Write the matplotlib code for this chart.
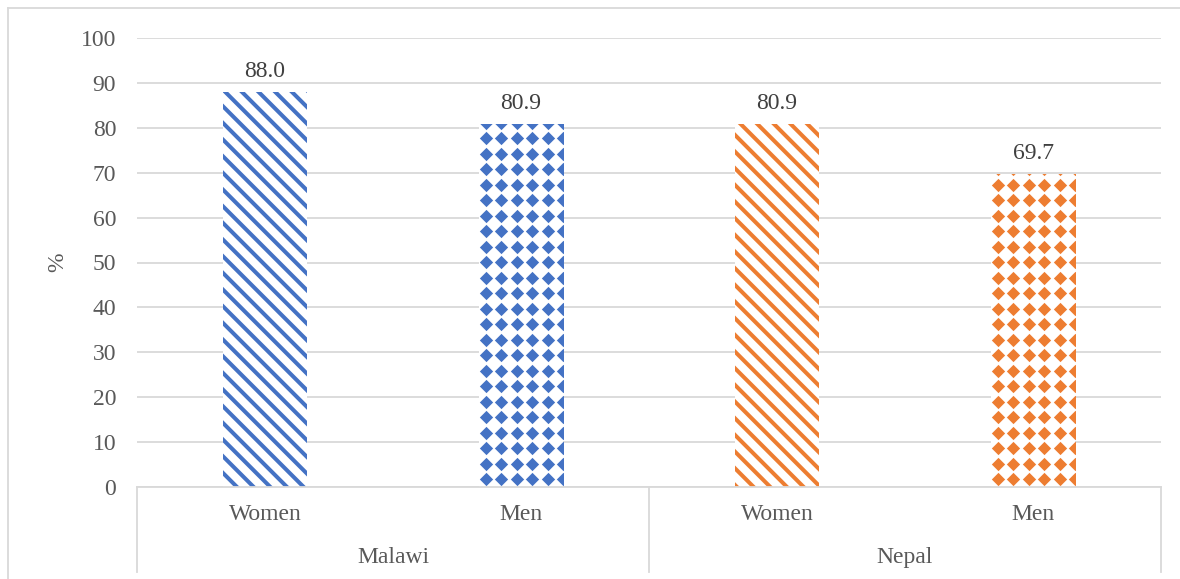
import numpy as np
import matplotlib
matplotlib.use("Agg")
import matplotlib.pyplot as plt
from matplotlib.lines import Line2D

countries = ["Malawi", "Nepal"]
sexes = ["Women", "Men"]
values = [88.0, 80.9, 80.9, 69.7]
value_labels = ["88.0", "80.9", "80.9", "69.7"]
yticks = [0, 10, 20, 30, 40, 50, 60, 70, 80, 90, 100]

blue = "#4472C4"
orange = "#ED7D31"
bar_colors = [blue, blue, orange, orange]
patterns = ["stripe", "dots", "stripe", "dots"]

plt.rcParams["font.family"] = ["Liberation Serif", "DejaVu Serif"]
plt.rcParams["hatch.linewidth"] = 2.9

W, H = 1180, 579
fig = plt.figure(figsize=(W / 100, H / 100), dpi=100)
ax = fig.add_axes([137 / W, 1 - 487 / H, (1161 - 137) / W, (487 - 38) / H])

x = np.arange(len(values))
bw = 0.325
grid_c = "#D9D9D9"
txt_c = "#595959"
fs = 17

for xi, v, c, p in zip(x, values, bar_colors, patterns):
    if p == "stripe":
        ax.bar(xi, v, bw, facecolor="white", edgecolor=c, hatch="\\\\", linewidth=0, zorder=2)
    else:
        b = ax.bar(xi, v, bw, facecolor="white", edgecolor="none", linewidth=0, zorder=2)[0]
        sx = 15.5 / 256
        sy = 15.5 / 4.49
        xs = np.arange(xi - bw / 2 + sx * 0.4, xi + bw / 2 + sx, sx)
        ys = np.arange(sy * 0.5, v + sy, sy)
        XX, YY = np.meshgrid(xs, ys)
        sc = ax.scatter(XX.ravel(), YY.ravel(), marker="D", s=46, color=c, linewidths=0, zorder=3)
        sc.set_clip_path(b)

for xi, v, lab in zip(x, values, value_labels):
    ax.annotate(lab, (xi, v), xytext=(0, 7), textcoords="offset points",
                ha="center", va="bottom", fontsize=fs, color="#404040")

ax.set_xlim(-0.5, len(values) - 0.5)
ax.set_ylim(0, 100)
ax.set_yticks(yticks)
ax.set_yticklabels([str(t) for t in yticks], fontsize=fs, color=txt_c)
ax.tick_params(axis="y", length=0, pad=15)
ax.set_xticks([])
ax.yaxis.grid(True, color=grid_c, linewidth=1.3, zorder=0)
ax.set_axisbelow(True)
for s in ["top", "right", "left"]:
    ax.spines[s].set_visible(False)
ax.spines["bottom"].set_color(grid_c)
ax.spines["bottom"].set_linewidth(1.3)
ax.set_ylabel("%", fontsize=fs, color=txt_c)
ax.yaxis.set_label_coords((68 - 137) / 1024, 0.5)

tr = ax.get_xaxis_transform()
sex_labels = [s for _ in countries for s in sexes]
for xi, s in zip(x, sex_labels):
    ax.text(xi, -0.062, s, transform=tr, ha="center", va="center", fontsize=fs, color=txt_c)
n = len(sexes)
for i, cname in enumerate(countries):
    ax.text(i * n + (n - 1) / 2, -0.158, cname, transform=tr, ha="center", va="center",
            fontsize=fs, color=txt_c)
for i in range(len(countries) + 1):
    ax.add_line(Line2D([i * n - 0.5, i * n - 0.5], [0, -0.19], transform=tr,
                       color=grid_c, linewidth=1.3, clip_on=False))

# outer chart border
fig.add_artist(Line2D([8 / W, 8 / W], [0, 1 - 8 / H], transform=fig.transFigure,
                      color=grid_c, linewidth=1.3))
fig.add_artist(Line2D([8 / W, 1], [1 - 8 / H, 1 - 8 / H], transform=fig.transFigure,
                      color=grid_c, linewidth=1.3))

fig.savefig("out.png", dpi=100)
